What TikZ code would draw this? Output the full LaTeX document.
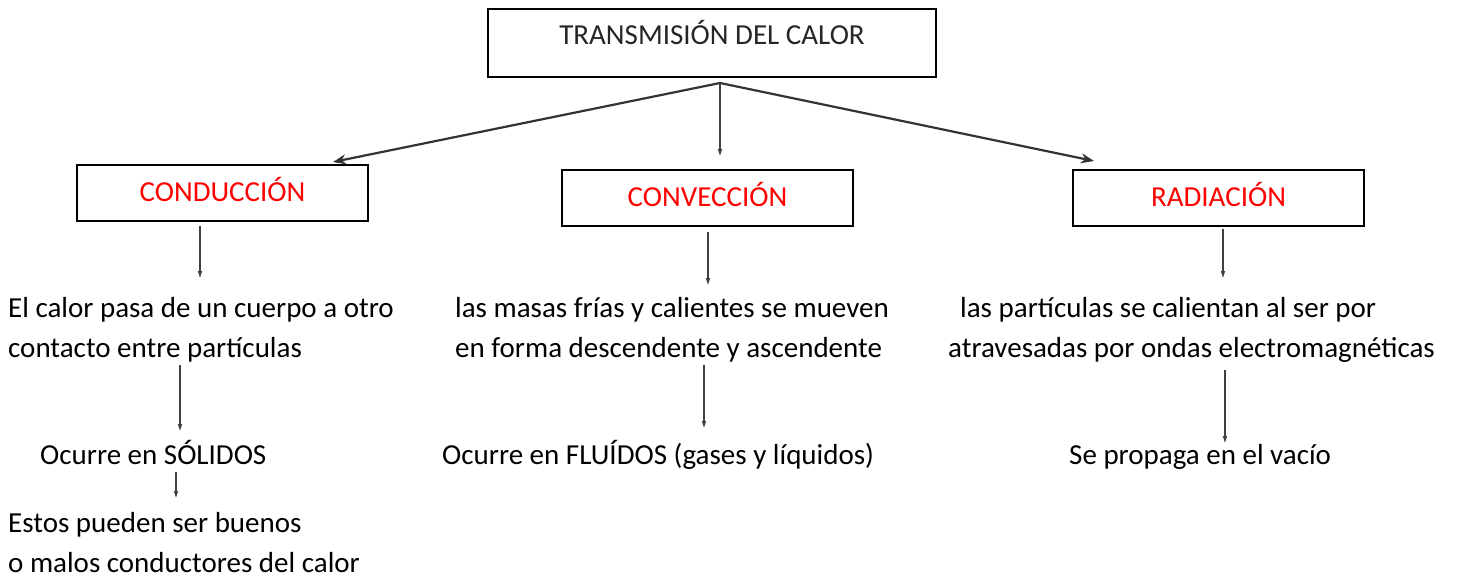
\documentclass[tikz,border=0pt]{standalone}
\usepackage{fontspec}
\setmainfont{Carlito}
\usetikzlibrary{arrows.meta,positioning}

\begin{document}
\begin{tikzpicture}[x=1pt,y=-1pt,
  every node/.style={font=\fontsize{29}{40}\selectfont},
  caja/.style={draw,line width=2pt,inner sep=0pt,minimum width=291pt},
  rama/.style={caja,text=red,text height=37pt,text depth=19pt},
  texto/.style={anchor=base west,align=left,inner sep=0pt},
  flecha/.style={draw=black!80,line width=2.2pt,-{Stealth[length=13pt,width=10pt]}},
  baja/.style={draw=black!75,line width=1.4pt,-{Triangle[length=7pt,width=4pt]}}]

  \useasboundingbox (0,0) rectangle (1458,577);

  % cabecera
  \node[caja,minimum width=448pt,text=black!85,
        text height=36pt,text depth=32pt] (titulo) at (712,8) [anchor=north] {TRANSMISIÓN DEL CALOR};

  \node[rama] (conduccion) at (222.5,164) [anchor=north] {CONDUCCIÓN};
  \node[rama] (conveccion) at (707.5,169) [anchor=north] {CONVECCIÓN};
  \node[rama] (radiacion) at (1218.5,169) [anchor=north] {RADIACIÓN};

  % textos (base = ultima linea)
  \node[texto] (calorpasa) at (8,357) {El calor pasa de un cuerpo a otro\\contacto entre partículas};
  \node[texto] (masas) at (455,357) {las masas frías y calientes se mueven\\en forma descendente y ascendente};
  \node[texto] (particulas) at (948,357) {\hspace*{12pt}las partículas se calientan al ser por\\atravesadas por ondas electromagnéticas};

  \node[texto] (solidos) at (40,464) {Ocurre en SÓLIDOS};
  \node[texto] (fluidos) at (442,464) {Ocurre en FLUÍDOS (gases y líquidos)};
  \node[texto] (vacio) at (1069,464) {Se propaga en el vacío};

  \node[texto] (estos) at (8,572) {Estos pueden ser buenos\\o malos conductores del calor};

  % puntos de las flechas
  \coordinate (arranque) at (720,83);
  \coordinate (llegaA) at (333,162);
  \coordinate (llegaB) at (720,156);
  \coordinate (llegaC) at (1094,161);

  \coordinate (condA) at (200,226);  \coordinate (condB) at (200,278);
  \coordinate (convA) at (708,232);  \coordinate (convB) at (708,285);
  \coordinate (radA) at (1223,229);  \coordinate (radB) at (1223,278);
  \coordinate (calA) at (180,365);   \coordinate (calB) at (180,431);
  \coordinate (masA) at (704,365);   \coordinate (masB) at (704,428);
  \coordinate (parA) at (1225,370);  \coordinate (parB) at (1225,443);
  \coordinate (solA) at (176,472);   \coordinate (solB) at (176,498);

  \path[flecha] (arranque) -- (llegaA);
  \path[flecha] (arranque) -- (llegaC);
  \path[baja] (arranque) -- (llegaB);

  \path[baja] (condA) -- (condB);
  \path[baja] (convA) -- (convB);
  \path[baja] (radA) -- (radB);
  \path[baja] (calA) -- (calB);
  \path[baja] (masA) -- (masB);
  \path[baja] (parA) -- (parB);
  \path[baja] (solA) -- (solB);

\end{tikzpicture}
\end{document}
